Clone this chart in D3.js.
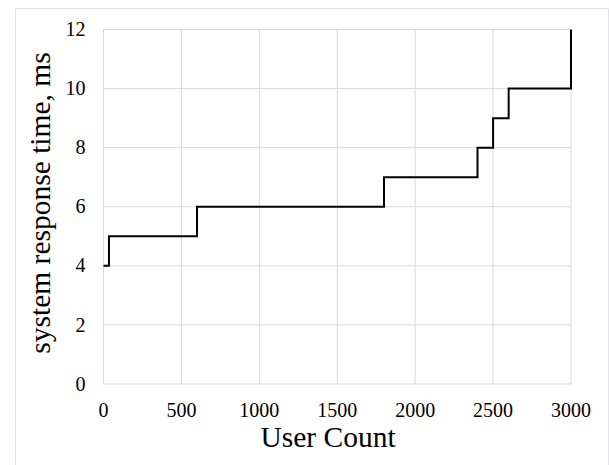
<!DOCTYPE html>
<html>
<head>
<meta charset="utf-8">
<script src="https://cdn.jsdelivr.net/npm/d3@7"></script>
<style>
  body { margin: 0; background: #fff; }
  text { font-family: "Liberation Serif", "Times New Roman", serif; fill: #000; }
</style>
</head>
<body>
<div id="chart"></div>
<script>
// step points: user count where the response time jumps, and the new value
var userCount = [0, 35, 600, 1800, 2400, 2500, 2600, 3000];
var responseMs = [4, 5, 6, 7, 8, 9, 10, 12];
var xTicks = [0, 500, 1000, 1500, 2000, 2500, 3000];
var yTicks = [0, 2, 4, 6, 8, 10, 12];

var svgWidth = 609;
var svgHeight = 465;

var margin = { top: 29.5, right: 38, bottom: 81, left: 103.5 };
var width = svgWidth - margin.left - margin.right;
var height = svgHeight - margin.top - margin.bottom;

var svg = d3.select("#chart")
    .append("svg")
    .attr("width", svgWidth)
    .attr("height", svgHeight);

// outer frame
svg.append("path")
    .attr("d", "M15.5,480 V8.5 H608.5 V480")
    .attr("fill", "none")
    .attr("stroke", "#dfe3ea")
    .attr("stroke-width", 1);

var chartGroup = svg.append("g")
    .attr("transform", `translate(${margin.left}, ${margin.top})`);

var xScale = d3.scaleLinear().domain([0, 3000]).range([0, width]);
var yScale = d3.scaleLinear().domain([0, 12]).range([height, 0]);

// gridlines
chartGroup.selectAll(".vgrid")
    .data(xTicks)
    .enter()
    .append("line")
    .attr("x1", d => xScale(d))
    .attr("x2", d => xScale(d))
    .attr("y1", 0)
    .attr("y2", height)
    .attr("stroke", "#d9d9d9")
    .attr("stroke-width", 1);

chartGroup.selectAll(".hgrid")
    .data(yTicks)
    .enter()
    .append("line")
    .attr("x1", 0)
    .attr("x2", width)
    .attr("y1", d => yScale(d))
    .attr("y2", d => yScale(d))
    .attr("stroke", "#d9d9d9")
    .attr("stroke-width", 1);

// tick labels
chartGroup.selectAll(".xlab")
    .data(xTicks)
    .enter()
    .append("text")
    .attr("x", d => xScale(d))
    .attr("y", height + 33)
    .attr("text-anchor", "middle")
    .attr("font-size", "20px")
    .text(d => d);

chartGroup.selectAll(".ylab")
    .data(yTicks)
    .enter()
    .append("text")
    .attr("x", -18)
    .attr("y", d => yScale(d))
    .attr("dy", "0.33em")
    .attr("text-anchor", "end")
    .attr("font-size", "20px")
    .text(d => d);

// step line
var points = userCount.map((u, i) => [u, responseMs[i]]);
var line = d3.line()
    .x(d => xScale(d[0]))
    .y(d => yScale(d[1]))
    .curve(d3.curveStepAfter);

chartGroup.append("path")
    .datum(points)
    .attr("d", line)
    .attr("fill", "none")
    .attr("stroke", "#000")
    .attr("stroke-width", 2);

// axis titles
svg.append("text")
    .attr("x", 328)
    .attr("y", 447)
    .attr("text-anchor", "middle")
    .attr("font-size", "29.5px")
    .text("User Count");

svg.append("text")
    .attr("transform", "translate(50, 203) rotate(-90)")
    .attr("text-anchor", "middle")
    .attr("font-size", "29.5px")
    .text("system response time, ms");
</script>
</body>
</html>
